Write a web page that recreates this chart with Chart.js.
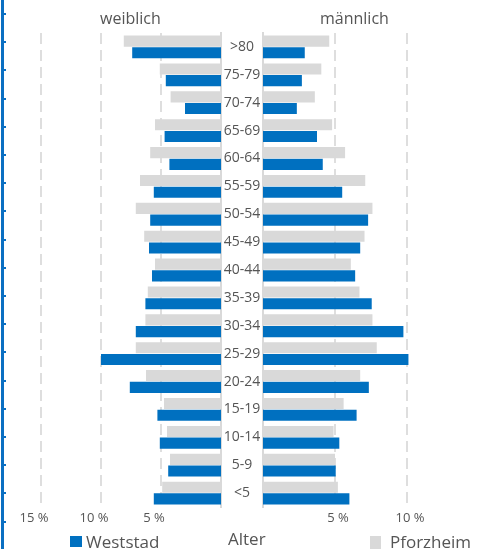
<!DOCTYPE html>
<html><head><meta charset="utf-8">
<script src="https://cdn.jsdelivr.net/npm/chart.js@4/dist/chart.umd.min.js"></script>
<style>
html,body{margin:0;padding:0;background:#fff;}
#wrap{position:relative;width:484px;height:549px;overflow:hidden;font-family:"Open Sans",sans-serif;color:#555;}
canvas{position:absolute;left:0;top:0;}
.t{position:absolute;white-space:nowrap;line-height:1;}
.sq{position:absolute;}
#deco{position:absolute;left:1px;top:0;width:3px;height:549px;background:#0a6fc2;}
.tk{position:absolute;left:4px;width:2px;height:2px;background:#0a6fc2;}
</style></head><body>
<div id="wrap">
<div id="deco"></div>
<canvas id="f" width="484" height="549"></canvas>
<canvas id="m" width="484" height="549"></canvas>
<div class="t" style="left:100px;top:10px;font-size:16px;">weiblich</div>
<div class="t" style="left:320px;top:10px;font-size:16px;">männlich</div>
<div class="sq" style="left:70px;top:536px;width:12px;height:11px;background:#0070c0;"></div>
<div class="t" style="left:86px;top:533px;font-size:17px;">Weststad</div>
<div class="t" style="left:228px;top:530px;font-size:17px;">Alter</div>
<div class="sq" style="left:370px;top:536px;width:11px;height:13px;background:#d9d9d9;"></div>
<div class="t" style="left:390px;top:533px;font-size:17px;">Pforzheim</div>
</div>
<script>
const categories = ['>80','75-79','70-74','65-69','60-64','55-59','50-54','45-49','40-44','35-39','30-34','25-29','20-24','15-19','10-14','5-9','<5'];
const weststadFemale = [7.4, 4.6, 3.0, 4.7, 4.3, 5.6, 5.9, 6.0, 5.75, 6.3, 7.1, 10.0, 7.6, 5.3, 5.1, 4.4, 5.6];
const pforzheimFemale = [8.1, 5.1, 4.2, 5.5, 5.9, 6.75, 7.1, 6.4, 5.5, 6.1, 6.3, 7.1, 6.25, 4.75, 4.5, 4.25, 4.9];
const weststadMale = [2.9, 2.7, 2.35, 3.75, 4.15, 5.5, 7.3, 6.75, 6.4, 7.55, 9.75, 10.1, 7.35, 6.5, 5.3, 5.05, 6.0];
const pforzheimMale = [4.6, 4.05, 3.6, 4.8, 5.7, 7.1, 7.6, 7.05, 6.1, 6.7, 7.6, 7.9, 6.75, 5.6, 4.9, 5.0, 5.2];
const femaleTicks = [5, 10, 15];
const maleTicks = [5, 10];

const BLUE = '#0070c0', GREY = '#d9d9d9', TXT = '#555555', GRID = '#dedede';
const FAMILY = '"Open Sans", sans-serif';

// decoration ticks on the left edge
const wrap = document.getElementById('wrap');
for (let k = 0; k < 20; k++) {
  const d = document.createElement('div');
  d.className = 'tk';
  d.style.top = (13 + k * 28.2) + 'px';
  wrap.appendChild(d);
}

// center the age labels in the 42px gap
const mctx = document.createElement('canvas').getContext('2d');
mctx.font = '14px ' + FAMILY;
const widest = Math.max(...categories.map(c => mctx.measureText(c).width));
const labelPad = Math.max(0, 21 - widest / 2);

const common = {
  indexAxis: 'y', responsive: false, animation: false,
  plugins: {legend: {display: false}, tooltip: {enabled: false}},
  datasets: {bar: {categoryPercentage: 0.84, barPercentage: 0.95}}
};

new Chart(document.getElementById('f'), {
  type: 'bar',
  data: {labels: categories, datasets: [
    {label: 'Pforzheim', data: pforzheimFemale, backgroundColor: GREY},
    {label: 'Weststad', data: weststadFemale, backgroundColor: BLUE}
  ]},
  options: Object.assign({}, common, {
    layout: {padding: {left: 5, top: 33, right: 221, bottom: 22}},
    scales: {
      x: {reverse: true, min: 0, max: 18,
        afterBuildTicks: s => { s.ticks = femaleTicks.map(v => ({value: v})); },
        afterFit: s => { s.height = 20; },
        grid: {color: GRID, lineWidth: 2, drawTicks: false},
        border: {display: false, dash: [11, 6]},
        ticks: {padding: 3, labelOffset: -7, color: TXT, font: {family: FAMILY, size: 13}, callback: v => v + ' %'}
      },
      y: {position: 'right',
        afterFit: s => { s.width = 42; },
        grid: {display: false, drawTicks: false},
        border: {color: GREY, width: 2},
        ticks: {crossAlign: 'center', padding: labelPad, color: TXT, font: {family: FAMILY, size: 14}}
      }
    }
  })
});

new Chart(document.getElementById('m'), {
  type: 'bar',
  data: {labels: categories, datasets: [
    {label: 'Pforzheim', data: pforzheimMale, backgroundColor: GREY},
    {label: 'Weststad', data: weststadMale, backgroundColor: BLUE}
  ]},
  options: Object.assign({}, common, {
    layout: {padding: {left: 263, top: 33, right: 5, bottom: 22}},
    scales: {
      x: {min: 0, max: 15,
        afterBuildTicks: s => { s.ticks = maleTicks.map(v => ({value: v})); },
        afterFit: s => { s.height = 20; },
        grid: {color: GRID, lineWidth: 2, drawTicks: false},
        border: {display: false, dash: [11, 6]},
        ticks: {padding: 3, labelOffset: 3, color: TXT, font: {family: FAMILY, size: 13}, callback: v => v + ' %'}
      },
      y: {position: 'left',
        afterFit: s => { s.width = 0; },
        grid: {display: false, drawTicks: false},
        border: {color: GREY, width: 2},
        ticks: {display: false}
      }
    }
  })
});
</script>
</body></html>
